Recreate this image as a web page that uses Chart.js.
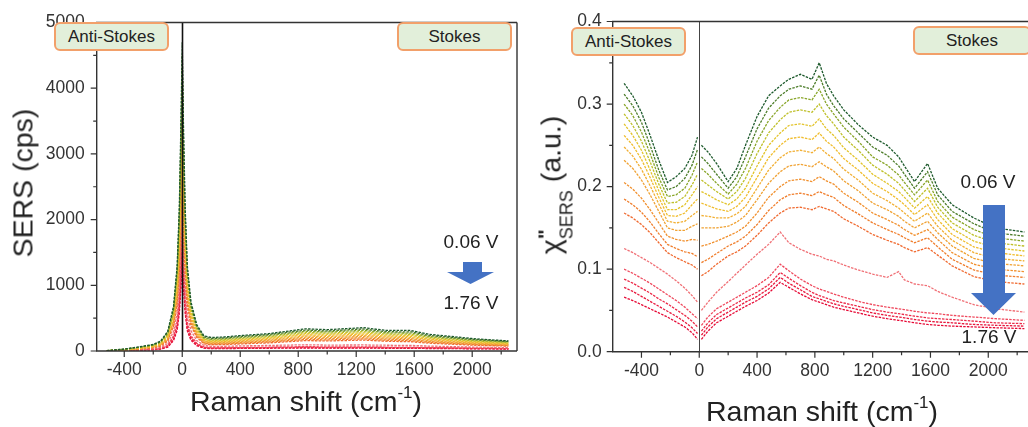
<!DOCTYPE html>
<html><head><meta charset="utf-8">
<script src="https://cdn.jsdelivr.net/npm/chart.js@4.4.1/dist/chart.umd.min.js"></script>
<style>
body{margin:0;background:#fff;}
#wrap{position:relative;width:1028px;height:427px;overflow:hidden;font-family:"Liberation Sans",Arial,sans-serif;color:#222;}
canvas{position:absolute;top:0;}
.box{position:absolute;box-sizing:border-box;background:#e2efda;border:2px solid #f2a06a;border-radius:6px;font-size:17px;display:flex;align-items:center;justify-content:center;color:#222;}
.lbl{position:absolute;font-size:19px;transform:translate(-50%,-50%);white-space:nowrap;color:#222;}
.title{position:absolute;font-size:28.5px;white-space:nowrap;transform:translate(-50%,-50%);color:#222;}
.ytitle{transform:translate(-50%,-50%) rotate(-90deg);}
.arrow{position:absolute;background:#4472c4;}
sup.s{font-size:17px;vertical-align:0;position:relative;top:-13px;}
</style></head>
<body>
<div id="wrap">
  <canvas id="cL" width="525" height="427" style="left:0"></canvas>
  <canvas id="cR" width="488" height="427" style="left:540px"></canvas>

  <div class="box" style="left:54px;top:22px;width:115px;height:29px;">Anti-Stokes</div>
  <div class="box" style="left:397px;top:22px;width:115px;height:29px;">Stokes</div>
  <div class="lbl" style="left:471px;top:242px;">0.06 V</div>
  <div class="lbl" style="left:471px;top:303px;">1.76 V</div>
  <div class="arrow" style="left:447px;top:262px;width:47px;height:22px;clip-path:polygon(16px 0,35px 0,35px 10px,47px 10px,23.5px 22px,0 10px,16px 10px);"></div>
  <div class="title" style="left:306px;top:401px;">Raman shift (cm<sup class="s">-1</sup>)</div>
  <div class="title ytitle" style="left:23px;top:183px;">SERS (cps)</div>

  <div class="box" style="left:571px;top:27px;width:115px;height:29px;">Anti-Stokes</div>
  <div class="box" style="left:913px;top:26px;width:118px;height:29px;">Stokes</div>
  <div class="lbl" style="left:988px;top:182px;">0.06 V</div>
  <div class="lbl" style="left:989px;top:337px;">1.76 V</div>
  <div class="arrow" style="left:971px;top:205px;width:45px;height:110px;clip-path:polygon(12px 0,34px 0,34px 88px,45px 88px,22.5px 110px,0 88px,12px 88px);"></div>
  <div class="title" style="left:822px;top:411px;">Raman shift (cm<sup class="s">-1</sup>)</div>
  <div class="title ytitle" style="left:551px;top:185px;">χ<span style="display:inline-block;vertical-align:middle;line-height:14px;font-size:18px;text-align:left;"><span style="display:block;font-weight:bold;font-size:21px;">"</span><span style="display:block;position:relative;top:7px;">SERS</span></span> (a.u.)</div>
</div>
<script>
// ---------- shared ----------
const seriesColors = ['#1d5a2c','#4d7d2a','#8aa62a','#bfc02a','#e3c42c','#f0bd2e','#f2b035','#f0a233',
                      '#f1902e','#f07e2c','#f06a30','#f07076','#ef4a5e','#ec2a48','#e81a3e','#e60a36'];

// ---------- left panel: SERS (cps) ----------
const xL = [-520,-400,-300,-200,-150,-100,-60,-35,-20,-8,0,8,20,35,60,100,150,200,300,400,600,850,1000,1250,1400,1580,1700,2000,2250];
const sers0  = [5,30,62,100,150,300,680,1300,2200,3600,4700,3500,2200,1300,750,400,230,205,215,235,265,338,325,355,315,312,255,190,153];
const sers1  = [5,28,58,95,142,285,650,1250,2100,3400,4500,3300,2100,1250,710,380,215,190,200,220,250,318,305,335,295,290,238,178,145];
const sers2  = [5,26,55,90,135,270,620,1200,2000,3250,4300,3150,2000,1200,680,360,200,178,188,205,235,300,290,315,278,272,222,167,137];
const sers3  = [4,24,52,85,127,255,590,1140,1900,3100,4100,3000,1900,1130,640,340,188,166,175,192,220,282,272,296,260,254,208,156,128];
const sers4  = [4,22,48,80,120,240,560,1080,1800,2900,3900,2850,1800,1070,600,320,176,155,163,180,205,264,255,277,244,237,195,146,120];
const sers5  = [4,20,45,75,112,225,530,1020,1700,2750,3700,2700,1700,1010,565,300,165,145,152,168,192,246,238,258,228,220,182,136,112];
const sers6  = [3,18,42,70,105,210,500,960,1600,2600,3500,2550,1600,950,530,280,154,135,142,156,178,228,220,240,212,204,170,127,104];
const sers7  = [3,17,39,65,98,195,470,900,1500,2450,3300,2400,1500,890,495,262,143,125,131,144,165,210,203,221,196,188,157,117,97];
const sers8  = [3,15,36,60,90,180,440,840,1400,2300,3100,2250,1400,830,460,244,132,115,120,132,151,192,186,202,180,172,144,108,89];
const sers9  = [3,14,33,55,83,165,410,780,1300,2150,2900,2100,1300,770,425,226,121,105,110,120,138,175,169,184,164,157,132,99,82];
const sers10 = [2,12,30,50,75,150,380,720,1200,2000,2700,1950,1200,710,390,208,110,95,99,108,124,158,153,166,149,141,119,89,74];
const sers11 = [2,10,22,38,57,115,300,580,1000,1700,2400,1650,1000,570,310,160,85,70,72,78,85,95,90,92,88,85,75,60,50];
const sers12 = [2,8,17,28,42,85,230,450,800,1400,2000,1350,800,440,235,118,62,50,52,56,60,66,63,64,60,58,54,46,40];
const sers13 = [1,7,15,25,37,75,205,400,720,1250,1800,1200,720,390,210,104,55,44,46,49,53,58,55,56,53,51,48,41,36];
const sers14 = [1,6,13,22,33,66,180,355,650,1100,1650,1080,650,345,185,92,49,39,41,44,47,51,49,50,47,45,43,37,33];
const sers15 = [1,5,11,19,29,58,160,315,580,1000,1500,980,580,305,165,82,43,35,37,39,42,46,44,45,42,40,38,34,30];
const sersAll = [sers0,sers1,sers2,sers3,sers4,sers5,sers6,sers7,sers8,sers9,sers10,sers11,sers12,sers13,sers14,sers15];

// ---------- right panel: chi'' SERS (a.u.) ----------
const xAS = [-520,-460,-400,-340,-280,-220,-160,-100,-50,-12];
const xST = [15,60,120,200,260,320,400,480,560,620,700,780,830,880,930,1000,1100,1200,1300,1380,1420,1490,1580,1650,1750,1900,2050,2250];
const chiAS0  = [0.325,0.310,0.290,0.262,0.232,0.205,0.212,0.222,0.238,0.260];
const chiAS1  = [0.312,0.298,0.278,0.250,0.220,0.196,0.200,0.210,0.226,0.245];
const chiAS2  = [0.300,0.286,0.266,0.240,0.211,0.188,0.190,0.198,0.214,0.230];
const chiAS3  = [0.288,0.274,0.255,0.230,0.203,0.180,0.181,0.188,0.202,0.215];
const chiAS4  = [0.276,0.262,0.244,0.220,0.195,0.172,0.172,0.178,0.190,0.200];
const chiAS5  = [0.262,0.250,0.233,0.211,0.187,0.165,0.164,0.168,0.178,0.185];
const chiAS6  = [0.248,0.237,0.221,0.201,0.179,0.158,0.156,0.158,0.165,0.170];
const chiAS7  = [0.232,0.222,0.208,0.190,0.170,0.150,0.147,0.147,0.152,0.155];
const chiAS8  = [0.205,0.197,0.186,0.172,0.156,0.140,0.136,0.134,0.136,0.135];
const chiAS9  = [0.185,0.178,0.169,0.157,0.143,0.130,0.125,0.121,0.119,0.115];
const chiAS10 = [0.168,0.162,0.154,0.144,0.132,0.120,0.114,0.109,0.105,0.100];
const chiAS11 = [0.125,0.120,0.114,0.108,0.101,0.094,0.086,0.077,0.068,0.060];
const chiAS12 = [0.100,0.095,0.089,0.083,0.076,0.069,0.062,0.054,0.046,0.040];
const chiAS13 = [0.088,0.083,0.077,0.071,0.064,0.058,0.051,0.044,0.037,0.030];
const chiAS14 = [0.078,0.073,0.067,0.061,0.055,0.049,0.043,0.036,0.029,0.022];
const chiAS15 = [0.066,0.062,0.057,0.052,0.047,0.042,0.036,0.030,0.023,0.015];

const chiST0  = [0.250,0.242,0.228,0.206,0.222,0.250,0.285,0.310,0.322,0.330,0.336,0.330,0.350,0.325,0.310,0.293,0.275,0.260,0.250,0.236,0.225,0.206,0.228,0.198,0.178,0.162,0.150,0.145];
const chiST1  = [0.236,0.228,0.215,0.198,0.212,0.236,0.270,0.295,0.310,0.318,0.322,0.318,0.335,0.312,0.298,0.282,0.265,0.248,0.238,0.225,0.215,0.198,0.218,0.190,0.170,0.155,0.144,0.140];
const chiST2  = [0.222,0.215,0.204,0.191,0.203,0.222,0.255,0.280,0.296,0.305,0.308,0.305,0.318,0.300,0.288,0.272,0.255,0.236,0.226,0.214,0.205,0.190,0.208,0.182,0.163,0.148,0.138,0.134];
const chiST3  = [0.208,0.202,0.194,0.185,0.194,0.210,0.240,0.265,0.281,0.290,0.293,0.290,0.300,0.286,0.276,0.260,0.244,0.226,0.215,0.204,0.196,0.182,0.198,0.175,0.156,0.141,0.132,0.128];
const chiST4  = [0.194,0.190,0.184,0.178,0.185,0.198,0.225,0.250,0.265,0.274,0.276,0.273,0.282,0.270,0.262,0.247,0.232,0.215,0.204,0.194,0.187,0.174,0.188,0.168,0.149,0.134,0.126,0.122];
const chiST5  = [0.180,0.177,0.173,0.170,0.176,0.187,0.211,0.235,0.250,0.258,0.260,0.257,0.265,0.255,0.248,0.234,0.220,0.204,0.194,0.184,0.178,0.166,0.178,0.160,0.142,0.127,0.120,0.116];
const chiST6  = [0.165,0.164,0.162,0.162,0.167,0.176,0.198,0.220,0.235,0.242,0.244,0.241,0.248,0.240,0.234,0.221,0.208,0.192,0.183,0.174,0.168,0.158,0.168,0.152,0.135,0.120,0.113,0.110];
const chiST7  = [0.150,0.150,0.150,0.152,0.157,0.165,0.184,0.204,0.218,0.225,0.227,0.224,0.230,0.224,0.219,0.207,0.195,0.180,0.172,0.164,0.158,0.150,0.158,0.144,0.128,0.113,0.107,0.104];
const chiST8  = [0.128,0.130,0.134,0.140,0.145,0.152,0.168,0.187,0.200,0.207,0.209,0.206,0.212,0.207,0.203,0.192,0.181,0.168,0.160,0.153,0.148,0.141,0.148,0.136,0.120,0.106,0.100,0.097];
const chiST9  = [0.108,0.112,0.119,0.128,0.133,0.140,0.154,0.171,0.184,0.190,0.192,0.189,0.194,0.190,0.187,0.177,0.167,0.156,0.148,0.142,0.138,0.132,0.138,0.127,0.112,0.099,0.093,0.090];
const chiST10 = [0.092,0.097,0.106,0.116,0.121,0.128,0.141,0.156,0.168,0.174,0.175,0.172,0.176,0.173,0.170,0.161,0.152,0.142,0.135,0.130,0.126,0.121,0.126,0.117,0.104,0.091,0.085,0.082];
const chiST11 = [0.050,0.060,0.072,0.085,0.095,0.105,0.118,0.130,0.145,0.132,0.124,0.118,0.116,0.112,0.110,0.105,0.099,0.094,0.090,0.097,0.087,0.082,0.080,0.073,0.066,0.057,0.052,0.048];
const chiST12 = [0.032,0.042,0.052,0.060,0.066,0.072,0.080,0.090,0.106,0.098,0.088,0.080,0.076,0.073,0.070,0.066,0.061,0.057,0.054,0.052,0.051,0.049,0.047,0.046,0.044,0.042,0.040,0.038];
const chiST13 = [0.025,0.035,0.045,0.053,0.059,0.065,0.072,0.081,0.096,0.089,0.080,0.072,0.068,0.065,0.062,0.059,0.055,0.051,0.048,0.046,0.045,0.043,0.041,0.040,0.039,0.037,0.035,0.034];
const chiST14 = [0.020,0.030,0.040,0.048,0.054,0.060,0.067,0.076,0.090,0.083,0.075,0.067,0.064,0.061,0.058,0.055,0.051,0.047,0.044,0.042,0.041,0.039,0.037,0.036,0.035,0.033,0.032,0.031];
const chiST15 = [0.015,0.025,0.035,0.043,0.049,0.055,0.062,0.071,0.084,0.078,0.070,0.063,0.060,0.057,0.054,0.051,0.047,0.043,0.040,0.038,0.037,0.035,0.033,0.032,0.031,0.030,0.029,0.028];
const chiASAll = [chiAS0,chiAS1,chiAS2,chiAS3,chiAS4,chiAS5,chiAS6,chiAS7,chiAS8,chiAS9,chiAS10,chiAS11,chiAS12,chiAS13,chiAS14,chiAS15];
const chiSTAll = [chiST0,chiST1,chiST2,chiST3,chiST4,chiST5,chiST6,chiST7,chiST8,chiST9,chiST10,chiST11,chiST12,chiST13,chiST14,chiST15];

// ---------- tick labels ----------
const xTickValues = [-400,0,400,800,1200,1600,2000];
const yTickSERS = [0,1000,2000,3000,4000,5000];
const yTickChi = [0,0.1,0.2,0.3,0.4];

// ---------- build datasets ----------
const lineStyle = { borderWidth: 1.3, borderDash: [2.5, 1.2] };
const dsLeft = sersAll.map((arr,i)=>({
  data: xL.map((x,j)=>({x, y: arr[j]})),
  borderColor: seriesColors[i], ...lineStyle
}));
const dsRight = chiSTAll.map((st,i)=>({
  data: [...xAS.map((x,j)=>({x, y: chiASAll[i][j]})), {x:0, y:null}, ...xST.map((x,j)=>({x, y: st[j]}))],
  borderColor: seriesColors[i], ...lineStyle
}));

function axesPlugin(cfg){
  return {
    id: 'axesDraw',
    afterDatasetsDraw(chart){
      const {ctx, chartArea:a, scales:{x,y}} = chart;
      ctx.save();
      const x0 = Math.round(x.getPixelForValue(0)) + 0.5;
      ctx.strokeStyle = cfg.zeroColor; ctx.lineWidth = cfg.zeroWidth;
      ctx.beginPath(); ctx.moveTo(x0, a.top); ctx.lineTo(x0, a.bottom); ctx.stroke();
      ctx.strokeStyle = '#333'; ctx.lineWidth = 1.4;
      ctx.beginPath();
      ctx.moveTo(a.right, a.top); ctx.lineTo(a.left, a.top); ctx.lineTo(a.left, a.bottom); ctx.lineTo(a.right, a.bottom);
      if (cfg.rightBorder){ ctx.moveTo(a.right, a.top); ctx.lineTo(a.right, a.bottom); }
      ctx.stroke();
      ctx.lineWidth = 1.2;
      ctx.beginPath();
      for (let k = -3; k <= 12; k++){
        const v = k*200;
        if (v < x.min || v > x.max) continue;
        const px = x.getPixelForValue(v);
        const len = (k % 2 === 0) ? 6 : 3.5;
        ctx.moveTo(px, a.bottom); ctx.lineTo(px, a.bottom + len);
      }
      for (let k = 0; k <= cfg.yMinorCount; k++){
        const v = k*cfg.yMinorStep;
        const py = y.getPixelForValue(v);
        const len = (k % 2 === 0) ? 6 : 3.5;
        ctx.moveTo(a.left, py); ctx.lineTo(a.left - len, py);
      }
      ctx.stroke();
      ctx.restore();
    }
  };
}

function makeChart(id, datasets, cfg){
  return new Chart(document.getElementById(id), {
    type: 'line',
    data: { datasets },
    options: {
      responsive: false, animation: false, devicePixelRatio: 1,
      spanGaps: false,
      layout: { padding: { top: cfg.padTop, right: cfg.padRight, left: 0, bottom: 0 } },
      plugins: { legend: { display: false }, tooltip: { enabled: false } },
      elements: { point: { radius: 0 }, line: { tension: 0 } },
      scales: {
        x: {
          type: 'linear', min: cfg.xmin, max: cfg.xmax,
          grid: { display: false, drawTicks: false }, border: { display: false },
          afterBuildTicks: s => { s.ticks = xTickValues.map(v => ({ value: v })); },
          afterFit: s => { s.height = cfg.xh; },
          ticks: { padding: 9, autoSkip: false, maxRotation: 0, color: '#333',
                   font: { family: '"Liberation Sans", Arial, sans-serif', size: 17.5 },
                   callback: v => String(v) }
        },
        y: {
          type: 'linear', min: 0, max: cfg.ymax,
          grid: { display: false, drawTicks: false }, border: { display: false },
          afterBuildTicks: s => { s.ticks = cfg.yticks.map(v => ({ value: v })); },
          afterFit: s => { s.width = cfg.yw; },
          ticks: { padding: cfg.ypad, autoSkip: false, color: '#333',
                   font: { family: '"Liberation Sans", Arial, sans-serif', size: 17.5 },
                   callback: cfg.yfmt }
        }
      }
    },
    plugins: [axesPlugin(cfg)]
  });
}

makeChart('cL', dsLeft, {
  padTop: 15, padRight: 8, xh: 76, yw: 96.7, ypad: 12,
  xmin: -590, xmax: 2309, ymax: 5000, yticks: yTickSERS, yfmt: v => String(v),
  zeroColor: '#111', zeroWidth: 1.6, rightBorder: true, yMinorStep: 500, yMinorCount: 10
});
makeChart('cR', dsRight, {
  padTop: 15, padRight: 0, xh: 75.3, yw: 72.7, ypad: 11,
  xmin: -599, xmax: 2275, ymax: 0.4, yticks: yTickChi, yfmt: v => v.toFixed(1),
  zeroColor: '#444', zeroWidth: 1, rightBorder: false, yMinorStep: 0.05, yMinorCount: 8
});
</script>
</body></html>
